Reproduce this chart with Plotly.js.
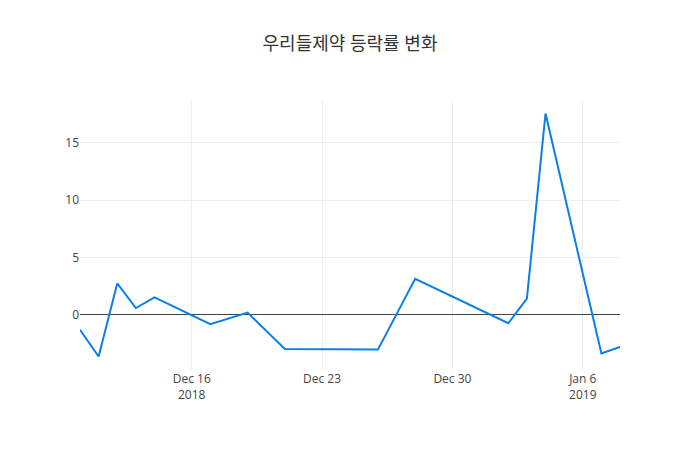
<!DOCTYPE html>
<html>
<head>
<meta charset="utf-8">
<script src="https://cdn.plot.ly/plotly-3.0.1.min.js"></script>
<style>html,body{margin:0;padding:0;background:#fff;}</style>
</head>
<body>
<div id="chart" style="width:700px;height:450px;"></div>
<script>
const dates = ["2018-12-10","2018-12-11","2018-12-12","2018-12-13","2018-12-14","2018-12-17","2018-12-19","2018-12-21","2018-12-26","2018-12-28","2019-01-02","2019-01-03","2019-01-04","2019-01-07","2019-01-08"];
const changeRate = [-1.3,-3.62,2.75,0.6,1.53,-0.8,0.2,-2.97,-3.02,3.15,-0.72,1.43,17.55,-3.36,-2.78];
const chartTitle = "우리들제약 등락률 변화";

Plotly.newPlot("chart", [{
  x: dates,
  y: changeRate,
  type: "scatter",
  mode: "lines",
  line: {color: "#0a7fe8", width: 2}
}], {
  width: 700,
  height: 450,
  title: {text: chartTitle, font: {family: "Open Sans, Noto Sans CJK KR, sans-serif", size: 18, color: "#333"}},
  font: {family: "Open Sans, Noto Sans CJK KR, sans-serif", size: 12, color: "#444"},
  xaxis: {type: "date", showgrid: true, gridcolor: "#eee"},
  yaxis: {zeroline: true, zerolinecolor: "#444", gridcolor: "#eee"},
  showlegend: false,
  margin: {l: 80, r: 80, t: 100, b: 80}
}, {displayModeBar: false});
</script>
</body>
</html>
